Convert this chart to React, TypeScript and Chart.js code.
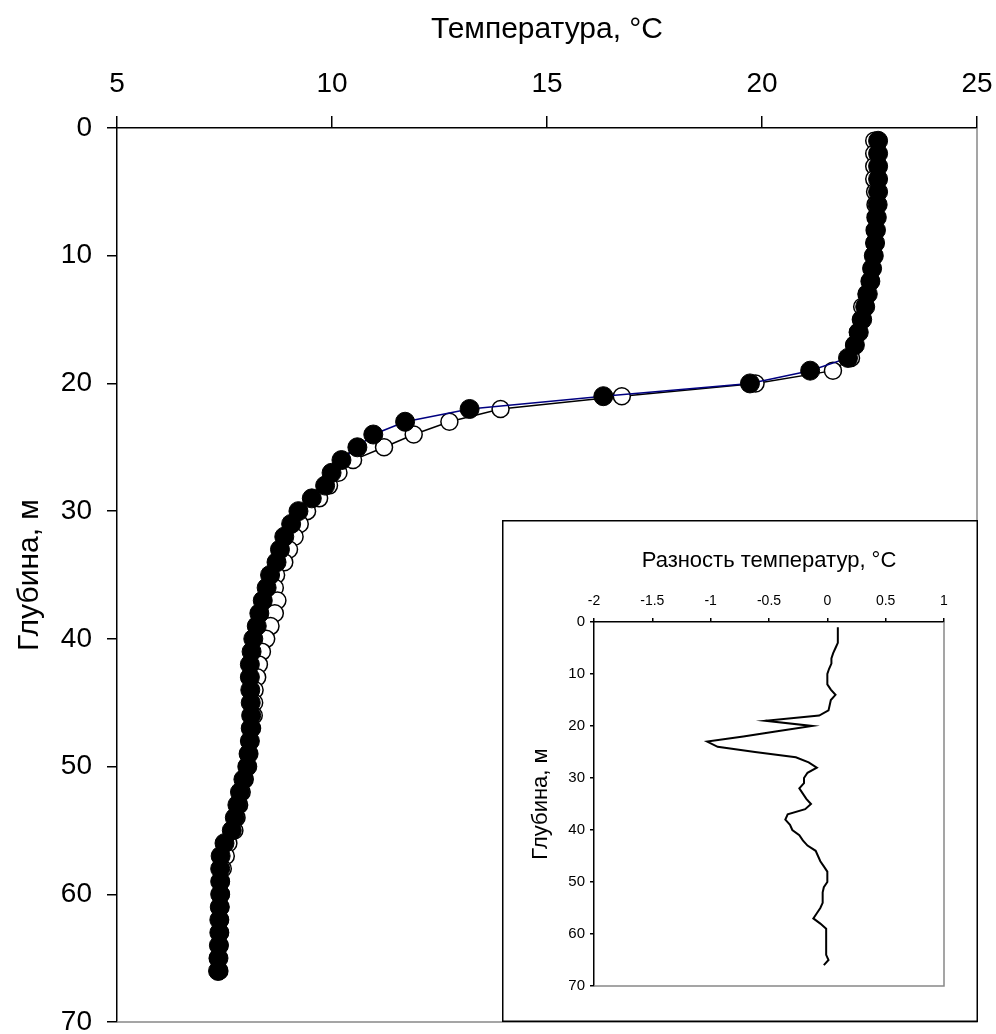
import React, { useEffect, useRef } from "react";
import { Chart, registerables } from "chart.js";

Chart.register(...registerables);

// Depth, m
const depths = [
  1, 2, 3, 4, 5, 6, 7, 8, 9, 10, 11, 12, 13, 14, 15, 16, 17, 18, 19, 20, 21, 22,
  23, 24, 25, 26, 27, 28, 29, 30, 31, 32, 33, 34, 35, 36, 37, 38, 39, 40, 41, 42,
  43, 44, 45, 46, 47, 48, 49, 50, 51, 52, 53, 54, 55, 56, 57, 58, 59, 60, 61, 62,
  63, 64, 65, 66,
];

// Temperature, °C (filled circles, navy line)
const tempFilled = [
  22.7, 22.7, 22.7, 22.7, 22.7, 22.69, 22.67, 22.65, 22.63, 22.6, 22.56, 22.52,
  22.46, 22.4, 22.33, 22.25, 22.16, 22.0, 21.12, 19.72, 16.31, 13.2, 11.7, 10.96,
  10.59, 10.22, 9.99, 9.84, 9.53, 9.22, 9.05, 8.89, 8.79, 8.71, 8.56, 8.48, 8.39,
  8.31, 8.25, 8.17, 8.13, 8.09, 8.09, 8.1, 8.11, 8.12, 8.11, 8.09, 8.06, 8.03,
  7.94, 7.86, 7.8, 7.74, 7.67, 7.5, 7.41, 7.4, 7.4, 7.4, 7.39, 7.38, 7.38, 7.37,
  7.36, 7.35,
];

// Temperature, °C (open circles, black line)
const tempOpen = [
  22.61, 22.61, 22.61, 22.61, 22.63, 22.64, 22.64, 22.62, 22.62, 22.6, 22.56,
  22.52, 22.43, 22.33, 22.3, 22.23, 22.15, 22.07, 21.65, 19.85, 16.74, 13.92,
  12.73, 11.9, 11.21, 10.49, 10.15, 9.93, 9.7, 9.42, 9.25, 9.13, 9.0, 8.89, 8.7,
  8.67, 8.73, 8.67, 8.57, 8.47, 8.37, 8.3, 8.26, 8.2, 8.19, 8.18, 8.14, 8.09,
  8.06, 8.03, 7.97, 7.9, 7.84, 7.78, 7.73, 7.59, 7.53, 7.46, 7.41, 7.41, 7.4,
  7.39, 7.39, 7.38, 7.35, 7.38,
];

// Temperature difference, °C (inset)
const tempDiff = [
  0.09, 0.09, 0.09, 0.09, 0.07, 0.05, 0.035, 0.035, 0.015, 0.0, 0.0, 0.0, 0.03,
  0.07, 0.03, 0.02, 0.01, -0.07, -0.53, -0.13, -0.43, -0.72, -1.03, -0.94, -0.62,
  -0.27, -0.16, -0.09, -0.17, -0.2, -0.2, -0.24, -0.21, -0.18, -0.14, -0.19,
  -0.34, -0.36, -0.32, -0.3, -0.24, -0.21, -0.17, -0.1, -0.08, -0.06, -0.03, 0.0,
  0.0, 0.0, -0.03, -0.04, -0.04, -0.04, -0.06, -0.09, -0.12, -0.06, -0.01, -0.01,
  -0.01, -0.01, -0.01, -0.01, 0.01, -0.03,
];

const mainXTicks = [5, 10, 15, 20, 25];
const mainYTicks = [0, 10, 20, 30, 40, 50, 60, 70];
const insetXTicks = [-2, -1.5, -1, -0.5, 0, 0.5, 1];
const insetYTicks = [0, 10, 20, 30, 40, 50, 60, 70];

const mainXTitle = "Температура, °С";
const mainYTitle = "Глубина, м";
const insetXTitle = "Разность температур, °С";
const insetYTitle = "Глубина, м";

const FONT = "'Liberation Sans', Arial, sans-serif";

const framePlugin = {
  id: "frame",
  beforeDraw(chart: any, _args: any, opts: any) {
    if (opts && opts.bg) {
      const ctx = chart.ctx;
      ctx.save();
      ctx.fillStyle = "#ffffff";
      ctx.fillRect(0, 0, chart.width, chart.height);
      ctx.restore();
    }
  },
  afterDraw(chart: any, _args: any, opts: any) {
    const ctx = chart.ctx;
    const { left, right, top, bottom } = chart.chartArea;
    ctx.save();
    ctx.strokeStyle = "#888888";
    ctx.lineWidth = 1.5;
    ctx.beginPath();
    ctx.moveTo(right, top);
    ctx.lineTo(right, bottom);
    ctx.lineTo(left, bottom);
    ctx.stroke();
    if (opts && opts.box) {
      ctx.strokeStyle = "#000000";
      ctx.lineWidth = 1.5;
      ctx.strokeRect(0.75, 0.75, chart.width - 1.5, chart.height - 1.5);
    }
    ctx.restore();
  },
};

function makeTicks(values: number[]) {
  return (s: any) => {
    s.ticks = values.map((v) => ({ value: v }));
  };
}

const plainLabel = (v: any) => String(v);

export default function App() {
  const mainRef = useRef<HTMLCanvasElement | null>(null);
  const insetRef = useRef<HTMLCanvasElement | null>(null);

  useEffect(() => {
    const filledPts = depths.map((d, i) => ({ x: tempFilled[i], y: d }));
    const openPts = depths.map((d, i) => ({ x: tempOpen[i], y: d }));
    const diffPts = depths.map((d, i) => ({ x: tempDiff[i], y: d }));

    const main = new Chart(mainRef.current as HTMLCanvasElement, {
      type: "scatter",
      data: {
        datasets: [
          {
            data: filledPts,
            showLine: true,
            borderColor: "#000080",
            borderWidth: 1.5,
            pointRadius: 9.5,
            pointBackgroundColor: "#000000",
            pointBorderColor: "#000000",
            pointBorderWidth: 1,
          },
          {
            data: openPts,
            showLine: true,
            borderColor: "#000000",
            borderWidth: 1.5,
            pointRadius: 8.5,
            pointBackgroundColor: "#ffffff",
            pointBorderColor: "#000000",
            pointBorderWidth: 1.5,
          },
        ],
      },
      options: {
        responsive: false,
        animation: false,
        events: [],
        layout: { padding: { left: 0, top: 0, right: 19, bottom: 12 } },
        plugins: {
          legend: { display: false },
          tooltip: { enabled: false },
          frame: { bg: true },
        } as any,
        scales: {
          x: {
            type: "linear",
            position: "top",
            min: 5,
            max: 25,
            afterBuildTicks: makeTicks(mainXTicks),
            afterFit: (s: any) => {
              s.height = 128;
              s.paddingLeft = 0;
              s.paddingRight = 0;
            },
            grid: {
              display: true,
              drawOnChartArea: false,
              drawTicks: true,
              tickLength: 12,
              color: "#000000",
              lineWidth: 1.5,
            },
            border: { display: true, color: "#000000", width: 1.5 },
            ticks: {
              color: "#000000",
              padding: 15,
              font: { family: FONT, size: 28 },
              maxRotation: 0,
              callback: plainLabel,
            },
            title: {
              display: true,
              text: mainXTitle,
              color: "#000000",
              font: { family: FONT, size: 30 },
              padding: { top: 12, bottom: 0 },
            },
          },
          y: {
            type: "linear",
            position: "left",
            reverse: true,
            min: 0,
            max: 70,
            afterBuildTicks: makeTicks(mainYTicks),
            afterFit: (s: any) => {
              s.width = 117;
              s.paddingTop = 0;
              s.paddingBottom = 0;
            },
            grid: {
              display: true,
              drawOnChartArea: false,
              drawTicks: true,
              tickLength: 10,
              color: "#000000",
              lineWidth: 1.5,
            },
            border: { display: true, color: "#000000", width: 1.5 },
            ticks: {
              color: "#000000",
              padding: 15,
              font: { family: FONT, size: 28 },
              callback: plainLabel,
            },
            title: {
              display: true,
              text: mainYTitle,
              color: "#000000",
              font: { family: FONT, size: 30 },
              padding: { top: 12, bottom: 0 },
            },
          },
        },
      },
      plugins: [framePlugin],
    } as any);

    const inset = new Chart(insetRef.current as HTMLCanvasElement, {
      type: "scatter",
      data: {
        datasets: [
          {
            data: diffPts,
            showLine: true,
            borderColor: "#000000",
            borderWidth: 2,
            pointRadius: 0,
          },
        ],
      },
      options: {
        responsive: false,
        animation: false,
        events: [],
        layout: { padding: { left: 0, top: 0, right: 34, bottom: 36 } },
        plugins: {
          legend: { display: false },
          tooltip: { enabled: false },
          frame: { bg: true, box: true },
        } as any,
        scales: {
          x: {
            type: "linear",
            position: "top",
            min: -2,
            max: 1,
            afterBuildTicks: makeTicks(insetXTicks),
            afterFit: (s: any) => {
              s.height = 102;
              s.paddingLeft = 0;
              s.paddingRight = 0;
            },
            grid: {
              display: true,
              drawOnChartArea: false,
              drawTicks: true,
              tickLength: 4,
              color: "#000000",
              lineWidth: 1.5,
            },
            border: { display: true, color: "#000000", width: 1.5 },
            ticks: {
              color: "#000000",
              padding: 8,
              font: { family: FONT, size: 14 },
              maxRotation: 0,
              callback: plainLabel,
            },
            title: {
              display: true,
              text: insetXTitle,
              color: "#000000",
              font: { family: FONT, size: 22 },
              padding: { top: 28, bottom: 0 },
            },
          },
          y: {
            type: "linear",
            position: "left",
            reverse: true,
            min: 0,
            max: 70,
            afterBuildTicks: makeTicks(insetYTicks),
            afterFit: (s: any) => {
              s.width = 92;
              s.paddingTop = 0;
              s.paddingBottom = 0;
            },
            grid: {
              display: true,
              drawOnChartArea: false,
              drawTicks: true,
              tickLength: 4,
              color: "#000000",
              lineWidth: 1.5,
            },
            border: { display: true, color: "#000000", width: 1.5 },
            ticks: {
              color: "#000000",
              padding: 5,
              font: { family: FONT, size: 15 },
              callback: plainLabel,
            },
            title: {
              display: true,
              text: insetYTitle,
              color: "#000000",
              font: { family: FONT, size: 22 },
              padding: { top: 26, bottom: 0 },
            },
          },
        },
      },
      plugins: [framePlugin],
    } as any);

    return () => {
      main.destroy();
      inset.destroy();
    };
  }, []);

  return (
    <div
      style={{
        position: "absolute",
        left: 0,
        top: 0,
        width: 996,
        height: 1034,
        background: "#ffffff",
      }}
    >
      <canvas
        ref={mainRef}
        width={996}
        height={1034}
        style={{ position: "absolute", left: 0, top: 0, width: 996, height: 1034 }}
      />
      <canvas
        ref={insetRef}
        width={476}
        height={502}
        style={{ position: "absolute", left: 502, top: 520, width: 476, height: 502 }}
      />
    </div>
  );
}
